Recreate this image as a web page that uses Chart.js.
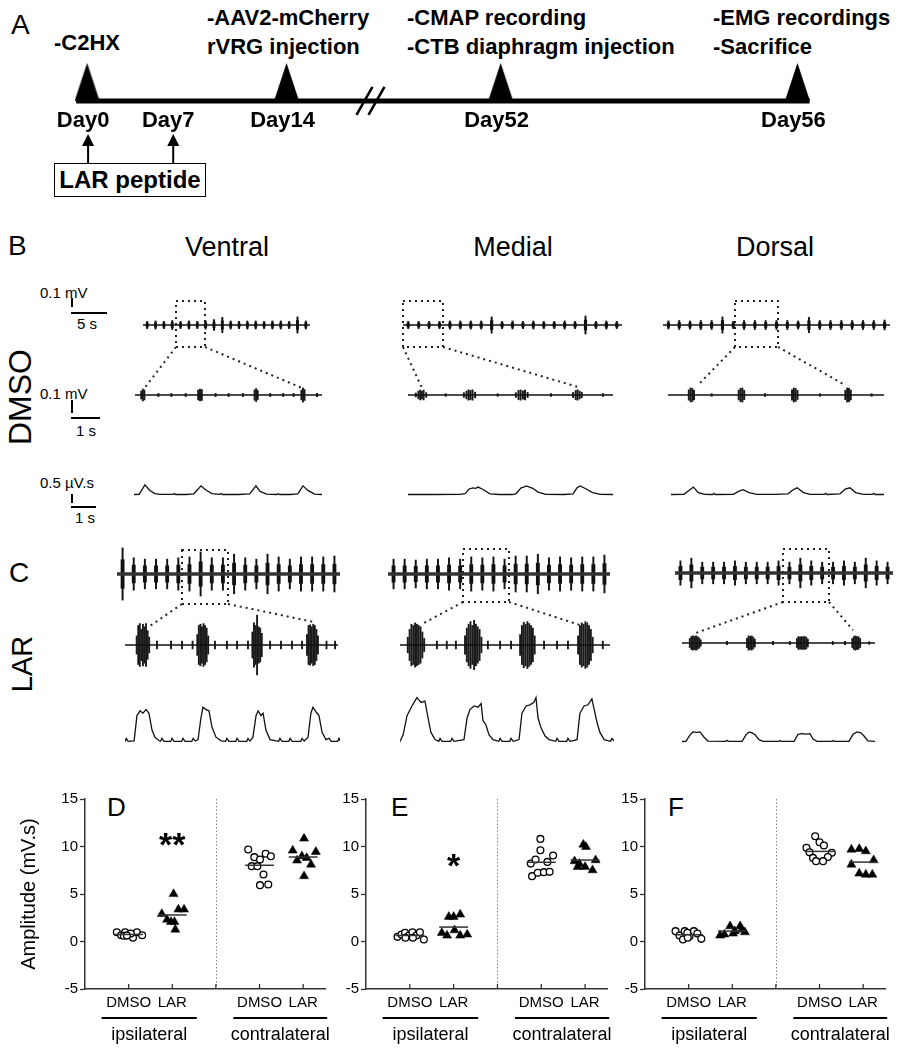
<!DOCTYPE html>
<html>
<head>
<meta charset="utf-8">
<script src="https://cdn.jsdelivr.net/npm/chart.js@4.4.1/dist/chart.umd.min.js"></script>
<style>
  body { margin: 0; background: #fff; }
  #page { position: relative; width: 899px; height: 1050px; overflow: hidden; background: #fff;
          font-family: "Liberation Sans", Arial, sans-serif; color: #000; }
  #page canvas { position: absolute; }
  .t { position: absolute; white-space: nowrap; line-height: 1; }
  .ev { font-weight: bold; font-size: 22px; }
  .big { font-size: 28px; }
  .col { font-size: 27px; transform: translateX(-50%); }
  .sb { font-size: 15px; }
  .c { transform: translateX(-50%); }
  .rot { transform: translate(-50%, -50%) rotate(-90deg); }
  #larbox { position: absolute; left: 54px; top: 163px; width: 150px; height: 32px; border: 1.5px solid #000;
            font-weight: bold; font-size: 24px; line-height: 32px; text-align: center; }
</style>
</head>
<body>
<div id="page">
  <!-- panel A -->
  <div class="t big" style="left:11px;top:11px">A</div>
  <div class="t ev" style="left:54px;top:32px">-C2HX</div>
  <div class="t ev" style="left:207px;top:7px">-AAV2-mCherry</div>
  <div class="t ev" style="left:207px;top:36px">rVRG injection</div>
  <div class="t ev" style="left:407px;top:7px">-CMAP recording</div>
  <div class="t ev" style="left:407px;top:36px">-CTB diaphragm injection</div>
  <div class="t ev" style="left:713px;top:7px">-EMG recordings</div>
  <div class="t ev" style="left:713px;top:36px">-Sacrifice</div>
  <div id="larbox">LAR peptide</div>

  <!-- panels B, C -->
  <div class="t big" style="left:8px;top:232px">B</div>
  <div class="t big" style="left:9px;top:559px">C</div>
  <div class="t col" style="left:227px;top:234px">Ventral</div>
  <div class="t col" style="left:513px;top:234px">Medial</div>
  <div class="t col" style="left:775px;top:234px">Dorsal</div>
  <div class="t rot" style="left:20px;top:397px;font-size:32px">DMSO</div>
  <div class="t rot" style="left:22px;top:664px;font-size:29px">LAR</div>

  <div class="t sb" style="left:40px;top:285px">0.1 mV</div>
  <div class="t sb c" style="left:87px;top:316px">5 s</div>
  <div class="t sb" style="left:40px;top:386px">0.1 mV</div>
  <div class="t sb c" style="left:86px;top:423px">1 s</div>
  <div class="t sb" style="left:40px;top:475px">0.5 µV.s</div>
  <div class="t sb c" style="left:85px;top:510px">1 s</div>

  <!-- panels D, E, F -->
  <div class="t" style="left:107px;top:794px;font-size:26px">D</div>
  <div class="t" style="left:391px;top:794px;font-size:26px">E</div>
  <div class="t" style="left:668px;top:794px;font-size:26px">F</div>

  <svg width="899" height="1050" style="position:absolute;left:0;top:0">
    <!-- zoom boxes and connectors -->
    <g fill="none" stroke="#222" stroke-width="2" stroke-dasharray="2 4">
      <rect x="176" y="301" width="29" height="46"/>
      <line x1="176" y1="347" x2="143" y2="390"/>
      <line x1="205" y1="347" x2="302" y2="388"/>
      <rect x="403" y="301" width="40" height="46"/>
      <line x1="403" y1="347" x2="422" y2="388"/>
      <line x1="443" y1="347" x2="578" y2="387"/>
      <rect x="735" y="301" width="43" height="46"/>
      <line x1="735" y1="347" x2="698" y2="385"/>
      <line x1="778" y1="347" x2="845" y2="385"/>
      <rect x="182" y="550" width="46" height="54"/>
      <line x1="182" y1="604" x2="150" y2="626"/>
      <line x1="228" y1="604" x2="314" y2="622"/>
      <rect x="463" y="549" width="46" height="53"/>
      <line x1="463" y1="602" x2="424" y2="623"/>
      <line x1="509" y1="602" x2="583" y2="626"/>
      <rect x="783" y="549" width="46" height="53"/>
      <line x1="783" y1="602" x2="693" y2="634"/>
      <line x1="829" y1="602" x2="853" y2="630"/>
    </g>
    <!-- scale bars -->
    <g stroke="#000" stroke-width="2">
      <line x1="72" y1="298" x2="72" y2="307"/>
      <line x1="71" y1="313" x2="107" y2="313"/>
      <line x1="72" y1="400" x2="72" y2="413"/>
      <line x1="71" y1="418" x2="100" y2="418"/>
      <line x1="72" y1="494" x2="72" y2="503"/>
      <line x1="71" y1="507" x2="96" y2="507"/>
    </g>
  </svg>
</div>

<script>
// ===== A: timeline (schematic axis, broken between Day14 and Day52) =====
const tlDays = ["Day0", "Day7", "Day14", "Day52", "Day56"];
const tlDayPos = [0, 7, 16.4, 34, 58.4];
const tlEventDays = ["Day0", "Day14", "Day52", "Day56"];
const tlInjectDays = ["Day0", "Day7"];
const tlSpan = [-0.9, 59.4];
const tlBreakPos = 23.3;

// ===== B/C: raw EMG (one value per burst / ECG mark, µV half-amplitude) =====
const rawDmsoVentral = [40, 45, 40, 50, 40, 45, 40, 45, 60, 85, 45, 40, 45, 45, 40, 45, 45, 40, 90, 45];
const rawDmsoMedial = [40, 40, 40, 40, 45, 45, 45, 45, 90, 40, 45, 40, 45, 40, 40, 45, 40, 100, 40, 45, 40];
const rawDmsoDorsal = [45, 50, 45, 50, 50, 90, 40, 50, 50, 50, 50, 50, 45, 85, 50, 50, 50, 50, 50, 50, 55];
const rawLarVentral = [290, 180, 165, 165, 165, 180, 190, 245, 180, 180, 220, 180, 165, 220, 190, 165, 190, 190, 190, 200];
const rawLarMedial = [165, 165, 155, 165, 165, 180, 165, 190, 180, 190, 165, 200, 200, 220, 180, 190, 180, 190, 190, 210];
const rawLarDorsal = [135, 165, 120, 120, 120, 135, 120, 120, 120, 135, 120, 165, 135, 120, 120, 135, 120, 165, 135, 120];

// zoomed EMG: [time s, half-amplitude µV]
const zoomDmsoVentral = [[0.24,30],[0.3,46],[0.36,38],[0.9,12],[1.4,12],[1.95,12],[2.43,38],[2.5,46],[2.57,42],[3.1,12],[3.6,12],[4.15,12],[4.6,40],[4.66,50],[4.72,35],[5.2,12],[5.7,12],[6.1,12],[6.4,38],[6.46,54],[6.52,42],[7.0,12]];
const zoomDmsoMedial = [[0.3,15],[0.4,30],[0.47,38],[0.53,30],[0.6,38],[0.7,18],[1.45,10],[2.15,18],[2.25,30],[2.33,40],[2.4,35],[2.48,40],[2.58,22],[3.45,10],[4.15,18],[4.25,35],[4.33,40],[4.42,32],[4.5,38],[4.6,20],[5.5,10],[6.35,20],[6.45,35],[6.52,40],[6.6,30],[6.68,22],[7.5,10]];
const zoomDmsoDorsal = [[0.8,40],[0.87,54],[0.94,50],[1.0,35],[1.68,10],[2.72,38],[2.79,52],[2.86,54],[2.93,36],[3.73,10],[4.77,40],[4.84,54],[4.91,50],[4.98,35],[5.85,10],[6.82,36],[6.89,54],[6.96,52],[7.03,38],[7.83,10]];
const zoomLarVentral = [[0.45,70],[0.51,150],[0.57,165],[0.63,120],[0.69,160],[0.75,140],[0.81,165],[0.87,110],[0.93,60],[1.23,30],[1.77,30],[2.19,30],[2.6,30],[2.78,80],[2.84,150],[2.9,160],[2.96,140],[3.02,165],[3.08,150],[3.14,130],[3.2,70],[3.46,30],[3.92,30],[4.31,30],[4.73,30],[4.9,100],[4.96,170],[5.02,150],[5.08,230],[5.14,140],[5.2,130],[5.26,90],[5.58,30],[6.0,30],[6.42,30],[6.81,30],[7.0,80],[7.06,150],[7.12,155],[7.18,140],[7.24,160],[7.3,150],[7.36,120],[7.42,70],[7.75,30],[8.08,30]];
const zoomLarMedial = [[0.3,60],[0.37,120],[0.44,160],[0.51,150],[0.58,170],[0.65,160],[0.72,150],[0.79,140],[0.86,100],[0.93,50],[1.42,30],[1.8,30],[2.15,30],[2.5,70],[2.57,130],[2.64,160],[2.71,180],[2.78,150],[2.85,190],[2.92,160],[2.99,140],[3.06,120],[3.13,60],[3.38,30],[3.85,30],[4.27,30],[4.62,80],[4.69,150],[4.76,175],[4.83,160],[4.9,180],[4.97,165],[5.04,150],[5.11,130],[5.18,70],[5.54,30],[6.04,30],[6.46,30],[6.85,70],[6.92,150],[6.99,170],[7.06,160],[7.13,180],[7.2,170],[7.27,150],[7.34,120],[7.41,60],[7.8,30]];
const zoomLarDorsal = [[0.3,35],[0.36,50],[0.42,55],[0.48,50],[0.54,55],[0.6,48],[0.66,40],[0.72,25],[1.73,12],[2.5,35],[2.56,55],[2.62,50],[2.68,55],[2.74,45],[2.8,30],[3.5,12],[4.15,12],[4.42,35],[4.48,50],[4.54,45],[4.6,50],[4.66,48],[4.72,50],[4.78,45],[4.84,30],[5.8,12],[6.27,12],[6.55,35],[6.61,50],[6.67,55],[6.73,50],[6.79,48],[6.85,35],[7.2,10]];

// integrated EMG: [time s, µV.s]
const intDmsoVentral = [[0,0.02],[0.2,0.03],[0.42,0.42],[0.6,0.2],[0.8,0.06],[1.0,0.03],[1.5,0.03],[1.55,0.06],[1.6,0.02],[2.0,0.02],[2.3,0.05],[2.58,0.38],[2.75,0.22],[3.0,0.06],[3.3,0.03],[3.35,0.06],[3.4,0.02],[4.0,0.02],[4.45,0.05],[4.69,0.38],[4.85,0.15],[5.1,0.04],[5.5,0.02],[5.55,0.05],[5.6,0.02],[6.0,0.02],[6.3,0.05],[6.5,0.38],[6.7,0.18],[6.95,0.04],[7.23,0.02]];
const intDmsoMedial = [[0,0.02],[1.0,0.02],[2.0,0.03],[2.2,0.06],[2.35,0.25],[2.5,0.3],[2.6,0.28],[2.7,0.33],[2.9,0.22],[3.15,0.05],[3.5,0.02],[4.0,0.02],[4.15,0.05],[4.35,0.3],[4.45,0.33],[4.55,0.38],[4.8,0.28],[5.0,0.12],[5.3,0.03],[6.0,0.02],[6.35,0.05],[6.5,0.3],[6.62,0.38],[6.8,0.28],[7.1,0.1],[7.4,0.03],[7.9,0.02]];
const intDmsoDorsal = [[0,0.02],[0.5,0.03],[0.7,0.2],[0.86,0.33],[1.05,0.1],[1.3,0.03],[1.6,0.02],[1.65,0.07],[1.7,0.02],[2.4,0.03],[2.6,0.15],[2.77,0.22],[3.0,0.1],[3.3,0.03],[4.0,0.03],[4.5,0.05],[4.7,0.22],[4.85,0.3],[5.1,0.1],[5.35,0.03],[5.9,0.03],[5.95,0.07],[6.0,0.02],[6.5,0.05],[6.7,0.25],[6.88,0.3],[7.1,0.1],[7.4,0.03],[7.75,0.03],[7.8,0.07],[7.85,0.02],[8.19,0.02]];
const intLarVentral = [[0,0.02],[0.05,0.15],[0.12,0.03],[0.35,0.05],[0.46,1.1],[0.58,1.3],[0.69,1.2],[0.81,1.35],[0.92,1.2],[1.04,0.5],[1.15,0.2],[1.3,0.06],[1.37,0.03],[1.42,0.15],[1.5,0.03],[1.76,0.03],[1.81,0.15],[1.89,0.03],[2.18,0.03],[2.23,0.15],[2.31,0.03],[2.57,0.03],[2.62,0.15],[2.7,0.04],[2.81,0.1],[2.92,1.0],[3.0,1.45],[3.12,1.35],[3.23,1.3],[3.35,0.6],[3.5,0.2],[3.7,0.05],[3.87,0.03],[3.92,0.15],[4.0,0.03],[4.26,0.03],[4.31,0.15],[4.39,0.03],[4.68,0.03],[4.73,0.15],[4.81,0.04],[4.92,0.2],[5.04,1.1],[5.12,1.3],[5.23,1.1],[5.31,1.2],[5.42,0.5],[5.58,0.1],[5.91,0.03],[5.96,0.15],[6.04,0.03],[6.3,0.03],[6.35,0.15],[6.43,0.03],[6.76,0.03],[6.81,0.15],[6.89,0.04],[7.04,0.2],[7.15,1.2],[7.23,1.45],[7.35,1.25],[7.46,1.1],[7.58,0.4],[7.73,0.1],[7.85,0.15],[7.93,0.03],[8.18,0.03],[8.23,0.15],[8.27,0.05]];
const intLarMedial = [[0,0.02],[0.12,0.3],[0.27,1.1],[0.46,1.5],[0.65,1.85],[0.81,1.65],[0.96,1.7],[1.08,1.0],[1.19,0.4],[1.35,0.1],[1.49,0.03],[1.54,0.15],[1.62,0.03],[1.95,0.03],[2.0,0.15],[2.08,0.03],[2.46,0.1],[2.58,1.0],[2.69,1.35],[2.85,1.5],[3.0,1.45],[3.12,1.6],[3.19,0.9],[3.31,0.7],[3.42,0.3],[3.58,0.1],[3.8,0.03],[3.85,0.15],[3.93,0.03],[4.22,0.03],[4.27,0.15],[4.35,0.03],[4.58,0.1],[4.69,1.2],[4.85,1.5],[5.0,1.55],[5.15,1.65],[5.23,1.85],[5.31,1.0],[5.42,0.6],[5.58,0.25],[5.73,0.1],[5.99,0.03],[6.04,0.15],[6.12,0.03],[6.41,0.03],[6.46,0.15],[6.54,0.03],[6.81,0.1],[6.92,1.2],[7.08,1.5],[7.23,1.55],[7.38,1.8],[7.5,1.2],[7.58,0.8],[7.69,0.4],[7.85,0.1],[8.1,0.03],[8.15,0.15],[8.23,0.05]];
const intLarDorsal = [[0,0.02],[0.15,0.03],[0.31,0.3],[0.42,0.42],[0.58,0.4],[0.69,0.42],[0.85,0.2],[1.0,0.04],[1.68,0.03],[1.73,0.07],[1.78,0.03],[2.31,0.03],[2.46,0.3],[2.58,0.42],[2.69,0.38],[2.81,0.3],[2.96,0.1],[3.12,0.03],[3.72,0.03],[3.77,0.06],[3.82,0.03],[4.31,0.03],[4.46,0.32],[4.62,0.35],[4.77,0.33],[4.92,0.35],[5.04,0.12],[5.19,0.03],[5.76,0.03],[5.81,0.06],[5.86,0.03],[6.42,0.03],[6.58,0.32],[6.73,0.42],[6.88,0.38],[7.0,0.25],[7.15,0.05],[7.42,0.03]];

// ===== D/E/F: amplitude (mV.s) per animal, with horizontal jitter =====
const treatLabels = ["DMSO", "LAR"];
const sideLabels = ["ipsilateral", "contralateral"];
const groupPos = [1, 2, 4, 5];
const sideSpans = [[0.38, 2.56], [3.4, 5.55]];

const dIpsiDmso = [0.98, 0.66, 0.98, 0.7, 0.39, 0.98, 0.66, 0.6, 0.85, 0.62];
const dIpsiDmsoJit = [-0.27, -0.17, -0.08, 0.01, 0.1, 0.19, 0.31, -0.11, 0.05, -0.04];
const dIpsiLar = [5.0, 2.9, 3.37, 3.37, 2.3, 2.07, 2.07, 1.26];
const dIpsiLarJit = [0.03, -0.24, 0.14, 0.27, -0.12, -0.03, 0.05, 0.07];
const dContraDmso = [9.68, 8.88, 8.63, 9.23, 8.98, 7.93, 7.93, 7.05, 5.93, 6.0];
const dContraDmsoJit = [-0.26, -0.12, 0.01, 0.14, 0.26, -0.18, -0.05, 0.09, 0.01, 0.2];
const dContraLar = [10.84, 9.58, 9.44, 8.98, 8.8, 8.53, 8.1, 6.88];
const dContraLarJit = [0.02, -0.24, 0.29, -0.03, 0.08, -0.14, 0.18, 0.02];

const eIpsiDmso = [0.49, 0.74, 0.91, 0.63, 0.98, 0.63, 0.98, 0.21, 0.39, 0.39];
const eIpsiDmsoJit = [-0.28, -0.19, -0.11, -0.02, 0.06, 0.15, 0.23, 0.32, -0.1, 0.07];
const eIpsiLar = [2.6, 2.6, 2.84, 0.91, 0.63, 1.19, 0.63, 0.74];
const eIpsiLarJit = [-0.11, 0, 0.15, -0.27, -0.15, 0.02, 0.15, 0.31];
const eContraDmso = [10.8, 9.6, 8.2, 8.63, 8.38, 9.05, 6.88, 7.23, 7.3, 7.33];
const eContraDmsoJit = [-0.02, -0.02, -0.24, -0.13, 0.14, 0.27, -0.21, -0.08, 0.06, 0.19];
const eContraLar = [10.2, 9.96, 8.46, 8.18, 8.56, 7.86, 7.86, 7.51];
const eContraLarJit = [-0.04, 0.02, -0.24, -0.13, 0.24, -0.17, 0, 0.17];

const fIpsiDmso = [1.09, 0.63, 1.09, 0.21, 0.56, 1.09, 0.84, 0.28, 0.91, 0.39];
const fIpsiDmsoJit = [-0.3, -0.21, -0.09, -0.13, 0.02, 0.12, 0.2, 0.29, -0.03, -0.02];
const fIpsiLar = [0.63, 0.74, 1.61, 1.09, 1.61, 0.98, 0.84, 1.26];
const fIpsiLarJit = [-0.28, -0.18, -0.05, 0.06, 0.18, 0.29, 0.02, 0.22];
const fContraDmso = [11.08, 10.45, 10.1, 9.86, 9.4, 9.33, 8.8, 8.9, 8.46, 8.46];
const fContraDmsoJit = [-0.1, 0, 0.1, -0.3, -0.23, 0.28, -0.15, 0.19, -0.08, 0.08];
const fContraLar = [9.68, 9.75, 9.51, 8.1, 8.56, 7.16, 7.05, 7.05];
const fContraLarJit = [-0.27, -0.09, 0.06, -0.27, 0.24, -0.09, 0.06, 0.21];

const sigMarks = ["**", "*", ""];
const sigLevels = [11.05, 8.84, 0];

// ---------------------------------------------------------------
Chart.defaults.font.family = '"Liberation Sans", Arial, sans-serif';
Chart.defaults.color = "#000";

const page = document.getElementById("page");
const PX_PER_S = 26;
const RAW_UV_PX = 100 / 9;
const ZOOM_UV_PX = 100 / 13;
const INT_PX = 0.5 / 12;

function addCanvas(left, top, w, h) {
  const c = document.createElement("canvas");
  c.width = w; c.height = h;
  c.style.left = left + "px"; c.style.top = top + "px";
  page.appendChild(c);
  return c;
}

function plainOpts(xMin, xMax, yMin, yMax) {
  return {
    responsive: false, animation: false, devicePixelRatio: 1, events: [],
    layout: { padding: 0 },
    plugins: { legend: { display: false }, tooltip: { enabled: false } },
    scales: {
      x: { type: "linear", min: xMin, max: xMax, display: false, offset: false },
      y: { type: "linear", min: yMin, max: yMax, display: false }
    }
  };
}

// compressed raw trace: evenly spaced spindles (thin full spike + thicker core)
function rawTrace(x0, yBase, w, amps, coreW, lineW, lineColor) {
  const n = amps.length;
  new Chart(addCanvas(x0, yBase - 40, w, 80), {
    type: "bar",
    data: {
      datasets: [
        { type: "line", data: [{ x: -0.5, y: 0 }, { x: n - 0.5, y: 0 }], borderColor: lineColor, borderWidth: lineW, pointRadius: 0 },
        { data: amps.map((a, i) => ({ x: i, y: [-a, a] })), backgroundColor: "#111", barThickness: 1.3, grouped: false },
        { data: amps.map((a, i) => ({ x: i, y: [-a * 0.55, a * 0.55] })), backgroundColor: "#111", barThickness: coreW, grouped: false }
      ]
    },
    options: plainOpts(-0.5, n - 0.5, -40 * RAW_UV_PX, 40 * RAW_UV_PX)
  });
}

// zoomed trace: spikes at their times
function zoomTrace(x0, yBase, w, spikes, barW) {
  const tMax = w / PX_PER_S;
  new Chart(addCanvas(x0, yBase - 40, w, 80), {
    type: "bar",
    data: {
      datasets: [
        { type: "line", data: [{ x: 0, y: 0 }, { x: tMax, y: 0 }], borderColor: "#111", borderWidth: 1.3, pointRadius: 0 },
        { data: spikes.map(s => ({ x: s[0], y: [-s[1], s[1]] })), backgroundColor: "#1a1a1a", barThickness: barW }
      ]
    },
    options: plainOpts(0, tMax, -40 * ZOOM_UV_PX, 40 * ZOOM_UV_PX)
  });
}

// integrated trace
function intTrace(x0, yBase, w, pts) {
  new Chart(addCanvas(x0, yBase - 55, w, 62), {
    type: "line",
    data: {
      datasets: [{ data: pts.map(p => ({ x: p[0], y: p[1] })), borderColor: "#111", borderWidth: 1.3, pointRadius: 0, tension: 0 }]
    },
    options: plainOpts(0, w / PX_PER_S, -7 * INT_PX, 55 * INT_PX)
  });
}

// ---- A: timeline chart
const triMark = document.createElement("canvas");
triMark.width = 25; triMark.height = 76;
const tctx = triMark.getContext("2d");
tctx.beginPath(); tctx.moveTo(12.5, 0); tctx.lineTo(25, 38); tctx.lineTo(0, 38); tctx.closePath(); tctx.fill();

const timelineDeco = {
  id: "tlDeco",
  afterDatasetsDraw(chart) {
    const { ctx, scales: { x, y } } = chart;
    const y0 = y.getPixelForValue(0);
    ctx.save();
    ctx.fillStyle = "#000"; ctx.strokeStyle = "#000";
    ctx.font = 'bold 22px "Liberation Sans", Arial, sans-serif';
    ctx.textAlign = "center";
    tlDays.forEach((d, i) => ctx.fillText(d, x.getPixelForValue(tlDayPos[i]) - 4, y0 + 26));
    // LAR peptide injections
    ctx.lineWidth = 2;
    tlInjectDays.forEach(d => {
      const px = x.getPixelForValue(tlDayPos[tlDays.indexOf(d)]) + 1;
      ctx.beginPath(); ctx.moveTo(px, y0 + 63); ctx.lineTo(px, y0 + 43); ctx.stroke();
      ctx.beginPath(); ctx.moveTo(px, y0 + 33); ctx.lineTo(px - 6, y0 + 45); ctx.lineTo(px + 6, y0 + 45); ctx.closePath(); ctx.fill();
    });
    // axis break
    const bx = x.getPixelForValue(tlBreakPos);
    ctx.lineWidth = 2.5;
    [-6, 6].forEach(d => {
      ctx.beginPath(); ctx.moveTo(bx + d - 8, y0 + 14); ctx.lineTo(bx + d + 8, y0 - 14); ctx.stroke();
    });
    ctx.restore();
  }
};

new Chart(addCanvas(0, 50, 899, 160), {
  type: "scatter",
  data: {
    datasets: [
      { type: "line", data: tlSpan.map(v => ({ x: v, y: 0 })), borderColor: "#000", borderWidth: 5, pointRadius: 0 },
      { data: tlEventDays.map(d => ({ x: tlDayPos[tlDays.indexOf(d)], y: 0 })), pointStyle: triMark, pointRadius: 3 }
    ]
  },
  options: plainOpts(-6.748, 66.34, -2.22, 0.98),
  plugins: [timelineDeco]
});

// ---- B/C traces
rawTrace(143, 325, 167, rawDmsoVentral, 2.2, 1.6, "#111");
rawTrace(403, 325, 219, rawDmsoMedial, 2.5, 1.6, "#111");
rawTrace(663, 325, 227, rawDmsoDorsal, 2.5, 1.6, "#111");
zoomTrace(135, 395, 187, zoomDmsoVentral, 1.3);
zoomTrace(408, 395, 205, zoomDmsoMedial, 1.3);
zoomTrace(668, 395, 216, zoomDmsoDorsal, 1.3);
intTrace(134, 495, 188, intDmsoVentral);
intTrace(408, 495, 205, intDmsoMedial);
intTrace(671, 495, 213, intDmsoDorsal);

rawTrace(117, 574, 223, rawLarVentral, 3.2, 3.5, "#333");
rawTrace(388, 574, 222, rawLarMedial, 3.2, 3.5, "#333");
rawTrace(675, 573, 218, rawLarDorsal, 3.2, 3.5, "#333");
zoomTrace(125, 645, 213, zoomLarVentral, 1.25);
zoomTrace(400, 645, 210, zoomLarMedial, 1.25);
zoomTrace(682, 643, 193, zoomLarDorsal, 1.25);
intTrace(125, 742, 215, intLarVentral);
intTrace(400, 742, 214, intLarMedial);
intTrace(682, 742, 193, intLarDorsal);

// ---- D/E/F scatter panels
const scatterDeco = {
  id: "deco",
  afterDraw(chart, args, o) {
    const { ctx, chartArea, scales: { x, y } } = chart;
    const base = y.getPixelForValue(-5);
    ctx.save();
    // divider between sides
    const dx = Math.round(x.getPixelForValue(3)) + 0.5;
    ctx.strokeStyle = "#888"; ctx.lineWidth = 1; ctx.setLineDash([1.5, 2]);
    ctx.beginPath(); ctx.moveTo(dx, chartArea.top); ctx.lineTo(dx, base); ctx.stroke();
    ctx.setLineDash([]);
    // inward x ticks
    ctx.strokeStyle = "#333"; ctx.lineWidth = 1.3;
    [1, 2, 3, 4, 5].forEach(v => {
      const px = x.getPixelForValue(v);
      ctx.beginPath(); ctx.moveTo(px, base); ctx.lineTo(px, base - 5); ctx.stroke();
    });
    // side underlines and labels
    ctx.strokeStyle = "#000"; ctx.lineWidth = 1.8; ctx.fillStyle = "#000";
    ctx.font = '18px "Liberation Sans", Arial, sans-serif';
    ctx.textAlign = "center"; ctx.textBaseline = "alphabetic";
    sideSpans.forEach((s, i) => {
      const a = x.getPixelForValue(s[0]), b = x.getPixelForValue(s[1]);
      ctx.beginPath(); ctx.moveTo(a, base + 29); ctx.lineTo(b, base + 29); ctx.stroke();
      ctx.fillText(sideLabels[i], (a + b) / 2, base + 51);
    });
    // significance
    if (o.sig) {
      ctx.font = 'bold 34px "Liberation Sans", Arial, sans-serif';
      ctx.fillText(o.sig, x.getPixelForValue(2), y.getPixelForValue(o.level) + 19);
    }
    ctx.restore();
  }
};

function groupDatasets(sets) {
  const ds = [];
  sets.forEach(([vals, jit], g) => {
    const lar = g % 2 === 1;
    ds.push({
      type: "scatter",
      data: vals.map((v, i) => ({ x: groupPos[g] + jit[i], y: v })),
      pointStyle: lar ? "triangle" : "circle",
      pointRadius: lar ? 5.2 : 3.4,
      pointBackgroundColor: lar ? "#000" : "#fff",
      pointBorderColor: "#000",
      pointBorderWidth: lar ? 0.5 : 1.3,
      order: 2
    });
    const m = vals.reduce((s, v) => s + v, 0) / vals.length;
    ds.push({
      type: "line",
      data: [{ x: groupPos[g] - 0.33, y: m }, { x: groupPos[g] + 0.33, y: m }],
      borderColor: "#333", borderWidth: 1.5, pointRadius: 0, order: 1
    });
  });
  return ds;
}

function scatterPanel(left, width, yAxisW, rightPad, sets, k, showTitle) {
  new Chart(addCanvas(left, 780, width, 270), {
    type: "scatter",
    data: { datasets: groupDatasets(sets) },
    options: {
      responsive: false, animation: false, devicePixelRatio: 1, events: [],
      layout: { padding: { top: 19, right: rightPad, left: 0, bottom: 0 } },
      plugins: { legend: { display: false }, tooltip: { enabled: false }, deco: { sig: sigMarks[k], level: sigLevels[k] } },
      scales: {
        x: {
          type: "linear", min: 0, max: 5.5,
          grid: { display: false, drawTicks: false },
          border: { color: "#333", width: 1.5 },
          afterBuildTicks: s => { s.ticks = groupPos.map(v => ({ value: v })); },
          afterFit: s => { s.height = 61; },
          ticks: { autoSkip: false, maxRotation: 0, padding: 5, font: { size: 15 }, color: "#000",
                   callback: v => treatLabels[groupPos.indexOf(v) % 2] }
        },
        y: {
          min: -5, max: 15,
          afterFit: s => { s.width = yAxisW; },
          ticks: { stepSize: 5, padding: 2, font: { size: 15 }, color: "#000" },
          grid: { drawOnChartArea: false, tickLength: 5, tickColor: "#333", tickWidth: 1.3 },
          border: { color: "#333", width: 1.5 },
          title: { display: showTitle, text: "Amplitude (mV.s)", font: { size: 20 }, color: "#000", padding: { top: 3, bottom: 4 } }
        }
      }
    },
    plugins: [scatterDeco]
  });
}

scatterPanel(14, 326, 71, 15, [[dIpsiDmso, dIpsiDmsoJit], [dIpsiLar, dIpsiLarJit], [dContraDmso, dContraDmsoJit], [dContraLar, dContraLarJit]], 0, true);
scatterPanel(300, 322, 66, 15, [[eIpsiDmso, eIpsiDmsoJit], [eIpsiLar, eIpsiLarJit], [eContraDmso, eContraDmsoJit], [eContraLar, eContraLarJit]], 1, false);
scatterPanel(580, 317, 65, 12, [[fIpsiDmso, fIpsiDmsoJit], [fIpsiLar, fIpsiLarJit], [fContraDmso, fContraDmsoJit], [fContraLar, fContraLarJit]], 2, false);
</script>
</body>
</html>
